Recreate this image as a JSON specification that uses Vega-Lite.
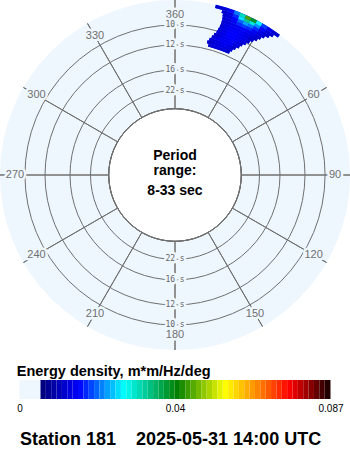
{
  "$schema": "https://vega.github.io/schema/vega-lite/v6.json",
  "background": "white",
  "padding": 0,
  "spacing": 30,
  "bounds": "flush",
  "center": true,
  "config": {"view": {"stroke": null}, "font": "Liberation Sans"},
  "resolve": {"scale": {"color": "independent"}},
  "datasets": {
    "disk": [{"fmin": 0.0303, "fmax": 0.1208}],
    "rings": [{"period": 10, "f": 0.1}, {"period": 12, "f": 0.08333}, {"period": 16, "f": 0.0625}, {"period": 22, "f": 0.04545}],
    "ringlabels": [
      {"f": 0.1, "dir": 0, "label": "10 s"}, {"f": 0.08333, "dir": 0, "label": "12 s"}, {"f": 0.0625, "dir": 0, "label": "16 s"}, {"f": 0.04545, "dir": 0, "label": "22 s"},
      {"f": 0.1, "dir": 180, "label": "10 s"}, {"f": 0.08333, "dir": 180, "label": "12 s"}, {"f": 0.0625, "dir": 180, "label": "16 s"}, {"f": 0.04545, "dir": 180, "label": "22 s"}
    ],
    "spokes": [
      {"dir": 0, "label": "360"}, {"dir": 30, "label": "30"}, {"dir": 60, "label": "60"}, {"dir": 90, "label": "90"},
      {"dir": 120, "label": "120"}, {"dir": 150, "label": "150"}, {"dir": 180, "label": "180"}, {"dir": 210, "label": "210"},
      {"dir": 240, "label": "240"}, {"dir": 270, "label": "270"}, {"dir": 300, "label": "300"}, {"dir": 330, "label": "330"}
    ],
    "cells": [
      {"d0": 14.4, "d1": 16, "f0": 0.0855, "f1": 0.088, "e": 0.012},
      {"d0": 16, "d1": 18, "f0": 0.0855, "f1": 0.088, "e": 0.013},
      {"d0": 18, "d1": 20, "f0": 0.0855, "f1": 0.088, "e": 0.013},
      {"d0": 20, "d1": 22, "f0": 0.0855, "f1": 0.088, "e": 0.013},
      {"d0": 22, "d1": 24, "f0": 0.0855, "f1": 0.088, "e": 0.012},

      {"d0": 13.6, "d1": 16, "f0": 0.088, "f1": 0.0905, "e": 0.012},
      {"d0": 16, "d1": 18, "f0": 0.088, "f1": 0.0905, "e": 0.013},
      {"d0": 18, "d1": 20, "f0": 0.088, "f1": 0.0905, "e": 0.014},
      {"d0": 20, "d1": 22, "f0": 0.088, "f1": 0.0905, "e": 0.014},
      {"d0": 22, "d1": 24.7, "f0": 0.088, "f1": 0.0905, "e": 0.013},

      {"d0": 14.2, "d1": 16, "f0": 0.0905, "f1": 0.093, "e": 0.012},
      {"d0": 16, "d1": 18, "f0": 0.0905, "f1": 0.093, "e": 0.013},
      {"d0": 18, "d1": 20, "f0": 0.0905, "f1": 0.093, "e": 0.014},
      {"d0": 20, "d1": 22, "f0": 0.0905, "f1": 0.093, "e": 0.015},
      {"d0": 22, "d1": 24, "f0": 0.0905, "f1": 0.093, "e": 0.014},
      {"d0": 24, "d1": 25.6, "f0": 0.0905, "f1": 0.093, "e": 0.012},

      {"d0": 14.9, "d1": 16, "f0": 0.093, "f1": 0.0955, "e": 0.012},
      {"d0": 16, "d1": 18, "f0": 0.093, "f1": 0.0955, "e": 0.014},
      {"d0": 18, "d1": 20, "f0": 0.093, "f1": 0.0955, "e": 0.015},
      {"d0": 20, "d1": 22, "f0": 0.093, "f1": 0.0955, "e": 0.015},
      {"d0": 22, "d1": 24, "f0": 0.093, "f1": 0.0955, "e": 0.015},
      {"d0": 24, "d1": 26.7, "f0": 0.093, "f1": 0.0955, "e": 0.013},

      {"d0": 15.5, "d1": 18, "f0": 0.0955, "f1": 0.098, "e": 0.012},
      {"d0": 18, "d1": 20, "f0": 0.0955, "f1": 0.098, "e": 0.014},
      {"d0": 20, "d1": 22, "f0": 0.0955, "f1": 0.098, "e": 0.015},
      {"d0": 22, "d1": 24, "f0": 0.0955, "f1": 0.098, "e": 0.016},
      {"d0": 24, "d1": 26, "f0": 0.0955, "f1": 0.098, "e": 0.014},
      {"d0": 26, "d1": 27.4, "f0": 0.0955, "f1": 0.098, "e": 0.012},

      {"d0": 16.2, "d1": 18, "f0": 0.098, "f1": 0.1005, "e": 0.013},
      {"d0": 18, "d1": 20, "f0": 0.098, "f1": 0.1005, "e": 0.014},
      {"d0": 20, "d1": 22, "f0": 0.098, "f1": 0.1005, "e": 0.016},
      {"d0": 22, "d1": 24, "f0": 0.098, "f1": 0.1005, "e": 0.016},
      {"d0": 24, "d1": 26, "f0": 0.098, "f1": 0.1005, "e": 0.015},
      {"d0": 26, "d1": 28.4, "f0": 0.098, "f1": 0.1005, "e": 0.013},

      {"d0": 16.5, "d1": 18, "f0": 0.1005, "f1": 0.103, "e": 0.013},
      {"d0": 18, "d1": 20, "f0": 0.1005, "f1": 0.103, "e": 0.014},
      {"d0": 20, "d1": 22, "f0": 0.1005, "f1": 0.103, "e": 0.016},
      {"d0": 22, "d1": 24, "f0": 0.1005, "f1": 0.103, "e": 0.016},
      {"d0": 24, "d1": 26, "f0": 0.1005, "f1": 0.103, "e": 0.015},
      {"d0": 26, "d1": 28, "f0": 0.1005, "f1": 0.103, "e": 0.014},
      {"d0": 28, "d1": 29.3, "f0": 0.1005, "f1": 0.103, "e": 0.012},

      {"d0": 16.8, "d1": 18, "f0": 0.103, "f1": 0.1055, "e": 0.012},
      {"d0": 18, "d1": 20, "f0": 0.103, "f1": 0.1055, "e": 0.014},
      {"d0": 20, "d1": 22, "f0": 0.103, "f1": 0.1055, "e": 0.015},
      {"d0": 22, "d1": 24, "f0": 0.103, "f1": 0.1055, "e": 0.016},
      {"d0": 24, "d1": 26, "f0": 0.103, "f1": 0.1055, "e": 0.015},
      {"d0": 26, "d1": 28, "f0": 0.103, "f1": 0.1055, "e": 0.014},
      {"d0": 28, "d1": 30.3, "f0": 0.103, "f1": 0.1055, "e": 0.012},

      {"d0": 16.9, "d1": 18, "f0": 0.1055, "f1": 0.108, "e": 0.012},
      {"d0": 18, "d1": 20, "f0": 0.1055, "f1": 0.108, "e": 0.014},
      {"d0": 20, "d1": 22, "f0": 0.1055, "f1": 0.108, "e": 0.015},
      {"d0": 22, "d1": 24, "f0": 0.1055, "f1": 0.108, "e": 0.015},
      {"d0": 24, "d1": 26, "f0": 0.1055, "f1": 0.108, "e": 0.015},
      {"d0": 26, "d1": 28, "f0": 0.1055, "f1": 0.108, "e": 0.014},
      {"d0": 28, "d1": 30, "f0": 0.1055, "f1": 0.108, "e": 0.013},
      {"d0": 30, "d1": 31.3, "f0": 0.1055, "f1": 0.108, "e": 0.012},

      {"d0": 16.9, "d1": 18, "f0": 0.108, "f1": 0.1105, "e": 0.012},
      {"d0": 18, "d1": 20, "f0": 0.108, "f1": 0.1105, "e": 0.013},
      {"d0": 20, "d1": 22, "f0": 0.108, "f1": 0.1105, "e": 0.014},
      {"d0": 22, "d1": 24, "f0": 0.108, "f1": 0.1105, "e": 0.015},
      {"d0": 24, "d1": 26, "f0": 0.108, "f1": 0.1105, "e": 0.016},
      {"d0": 26, "d1": 28, "f0": 0.108, "f1": 0.1105, "e": 0.015},
      {"d0": 28, "d1": 30, "f0": 0.108, "f1": 0.1105, "e": 0.014},
      {"d0": 30, "d1": 32.1, "f0": 0.108, "f1": 0.1105, "e": 0.012},

      {"d0": 16.8, "d1": 18, "f0": 0.1105, "f1": 0.113, "e": 0.012},
      {"d0": 18, "d1": 20, "f0": 0.1105, "f1": 0.113, "e": 0.013},
      {"d0": 20, "d1": 22, "f0": 0.1105, "f1": 0.113, "e": 0.015},
      {"d0": 22, "d1": 24, "f0": 0.1105, "f1": 0.113, "e": 0.018},
      {"d0": 24, "d1": 26, "f0": 0.1105, "f1": 0.113, "e": 0.019},
      {"d0": 26, "d1": 28, "f0": 0.1105, "f1": 0.113, "e": 0.018},
      {"d0": 28, "d1": 30, "f0": 0.1105, "f1": 0.113, "e": 0.015},
      {"d0": 30, "d1": 32, "f0": 0.1105, "f1": 0.113, "e": 0.013},
      {"d0": 32, "d1": 33, "f0": 0.1105, "f1": 0.113, "e": 0.012},

      {"d0": 16.6, "d1": 18, "f0": 0.113, "f1": 0.1155, "e": 0.012},
      {"d0": 18, "d1": 20, "f0": 0.113, "f1": 0.1155, "e": 0.013},
      {"d0": 20, "d1": 22, "f0": 0.113, "f1": 0.1155, "e": 0.016},
      {"d0": 22, "d1": 24, "f0": 0.113, "f1": 0.1155, "e": 0.021},
      {"d0": 24, "d1": 26, "f0": 0.113, "f1": 0.1155, "e": 0.024},
      {"d0": 26, "d1": 28, "f0": 0.113, "f1": 0.1155, "e": 0.022},
      {"d0": 28, "d1": 30, "f0": 0.113, "f1": 0.1155, "e": 0.018},
      {"d0": 30, "d1": 32, "f0": 0.113, "f1": 0.1155, "e": 0.014},
      {"d0": 32, "d1": 34.2, "f0": 0.113, "f1": 0.1155, "e": 0.012},

      {"d0": 16, "d1": 18, "f0": 0.1155, "f1": 0.118, "e": 0.012},
      {"d0": 18, "d1": 20, "f0": 0.1155, "f1": 0.118, "e": 0.013},
      {"d0": 20, "d1": 22, "f0": 0.1155, "f1": 0.118, "e": 0.018},
      {"d0": 22, "d1": 24, "f0": 0.1155, "f1": 0.118, "e": 0.027},
      {"d0": 24, "d1": 26, "f0": 0.1155, "f1": 0.118, "e": 0.035},
      {"d0": 26, "d1": 28, "f0": 0.1155, "f1": 0.118, "e": 0.031},
      {"d0": 28, "d1": 30, "f0": 0.1155, "f1": 0.118, "e": 0.023},
      {"d0": 30, "d1": 32, "f0": 0.1155, "f1": 0.118, "e": 0.016},
      {"d0": 32, "d1": 34, "f0": 0.1155, "f1": 0.118, "e": 0.013},
      {"d0": 34, "d1": 35.2, "f0": 0.1155, "f1": 0.118, "e": 0.012},

      {"d0": 13.5, "d1": 16, "f0": 0.118, "f1": 0.1208, "e": 0.012},
      {"d0": 16, "d1": 18, "f0": 0.118, "f1": 0.1208, "e": 0.013},
      {"d0": 18, "d1": 20, "f0": 0.118, "f1": 0.1208, "e": 0.015},
      {"d0": 20, "d1": 22, "f0": 0.118, "f1": 0.1208, "e": 0.022},
      {"d0": 22, "d1": 24, "f0": 0.118, "f1": 0.1208, "e": 0.033},
      {"d0": 24, "d1": 26, "f0": 0.118, "f1": 0.1208, "e": 0.047},
      {"d0": 26, "d1": 28, "f0": 0.118, "f1": 0.1208, "e": 0.041},
      {"d0": 28, "d1": 30, "f0": 0.118, "f1": 0.1208, "e": 0.028},
      {"d0": 30, "d1": 32, "f0": 0.118, "f1": 0.1208, "e": 0.019},
      {"d0": 32, "d1": 34, "f0": 0.118, "f1": 0.1208, "e": 0.014},
      {"d0": 34, "d1": 36.8, "f0": 0.118, "f1": 0.1208, "e": 0.012}
    ],
    "bar": [
      {"lo": 0, "hi": 0.00587},
      {"lo": 0.00587, "hi": 0.00737}, {"lo": 0.00737, "hi": 0.00887}, {"lo": 0.00887, "hi": 0.01037}, {"lo": 0.01037, "hi": 0.01187},
      {"lo": 0.01187, "hi": 0.01337}, {"lo": 0.01337, "hi": 0.01487}, {"lo": 0.01487, "hi": 0.01637}, {"lo": 0.01637, "hi": 0.01787},
      {"lo": 0.01787, "hi": 0.01937}, {"lo": 0.01937, "hi": 0.02087}, {"lo": 0.02087, "hi": 0.02237}, {"lo": 0.02237, "hi": 0.02387},
      {"lo": 0.02387, "hi": 0.02537}, {"lo": 0.02537, "hi": 0.02687}, {"lo": 0.02687, "hi": 0.02837}, {"lo": 0.02837, "hi": 0.02987},
      {"lo": 0.02987, "hi": 0.03137}, {"lo": 0.03137, "hi": 0.03287}, {"lo": 0.03287, "hi": 0.03437}, {"lo": 0.03437, "hi": 0.03587},
      {"lo": 0.03587, "hi": 0.03737}, {"lo": 0.03737, "hi": 0.03887}, {"lo": 0.03887, "hi": 0.04037}, {"lo": 0.04037, "hi": 0.04187},
      {"lo": 0.04187, "hi": 0.04337}, {"lo": 0.04337, "hi": 0.04487}, {"lo": 0.04487, "hi": 0.04637}, {"lo": 0.04637, "hi": 0.04787},
      {"lo": 0.04787, "hi": 0.04937}, {"lo": 0.04937, "hi": 0.05087}, {"lo": 0.05087, "hi": 0.05237}, {"lo": 0.05237, "hi": 0.05387},
      {"lo": 0.05387, "hi": 0.05537}, {"lo": 0.05537, "hi": 0.05687}, {"lo": 0.05687, "hi": 0.05837}, {"lo": 0.05837, "hi": 0.05987},
      {"lo": 0.05987, "hi": 0.06137}, {"lo": 0.06137, "hi": 0.06287}, {"lo": 0.06287, "hi": 0.06437}, {"lo": 0.06437, "hi": 0.06587},
      {"lo": 0.06587, "hi": 0.06737}, {"lo": 0.06737, "hi": 0.06887}, {"lo": 0.06887, "hi": 0.07037}, {"lo": 0.07037, "hi": 0.07187},
      {"lo": 0.07187, "hi": 0.07337}, {"lo": 0.07337, "hi": 0.07487}, {"lo": 0.07487, "hi": 0.07637}, {"lo": 0.07637, "hi": 0.07787},
      {"lo": 0.07787, "hi": 0.07937}, {"lo": 0.07937, "hi": 0.08087}, {"lo": 0.08087, "hi": 0.08237}, {"lo": 0.08237, "hi": 0.08387},
      {"lo": 0.08387, "hi": 0.08537}, {"lo": 0.08537, "hi": 0.087}
    ]
  },
  "vconcat": [
    {
      "width": 350,
      "height": 350,
      "layer": [
        {
          "data": {"name": "disk"},
          "mark": {"type": "arc", "theta": 0, "theta2": 6.2832, "fill": "#eef6fe", "clip": true},
          "encoding": {
            "radius": {"field": "fmax", "type": "quantitative", "stack": null, "scale": {"type": "linear", "domain": [0.0303, 0.1208], "range": [66.3, 175], "zero": false}},
            "radius2": {"field": "fmin"}
          }
        },
        {
          "data": {"name": "rings"},
          "mark": {"type": "arc", "theta": 0, "theta2": 6.2832, "filled": false, "stroke": "#707070", "strokeWidth": 1},
          "encoding": {
            "radius": {"field": "f", "type": "quantitative", "stack": null, "scale": {"type": "linear", "domain": [0.0303, 0.1208], "range": [66.3, 175], "zero": false}}
          }
        },
        {
          "data": {"name": "spokes"},
          "mark": {"type": "arc", "filled": false, "stroke": "#707070", "strokeWidth": 1, "clip": true},
          "encoding": {
            "theta": {"field": "dir", "type": "quantitative", "stack": null, "scale": {"type": "linear", "domain": [0, 360], "range": [0, 6.283185307179586]}},
            "theta2": {"field": "dir"},
            "radius": {"datum": 0.1208, "type": "quantitative", "stack": null, "scale": {"type": "linear", "domain": [0.0303, 0.1208], "range": [66.3, 175], "zero": false}},
            "radius2": {"datum": 0.0303}
          }
        },
        {
          "data": {"name": "spokes"},
          "mark": {"type": "text", "radius": 160, "font": "Liberation Sans", "fontSize": 11, "fill": "#eef6fe", "stroke": "#eef6fe", "strokeWidth": 5, "strokeJoin": "round", "align": "center", "baseline": "middle"},
          "encoding": {
            "theta": {"field": "dir", "type": "quantitative", "stack": null, "scale": {"type": "linear", "domain": [0, 360], "range": [0, 6.283185307179586]}},
            "text": {"field": "label"}
          }
        },
        {
          "data": {"name": "spokes"},
          "mark": {"type": "text", "radius": 160, "font": "Liberation Sans", "fontSize": 11, "fill": "#707070", "align": "center", "baseline": "middle"},
          "encoding": {
            "theta": {"field": "dir", "type": "quantitative", "stack": null, "scale": {"type": "linear", "domain": [0, 360], "range": [0, 6.283185307179586]}},
            "text": {"field": "label"}
          }
        },
        {
          "data": {"name": "ringlabels"},
          "mark": {"type": "text", "font": "DejaVu Sans Mono", "fontSize": 8, "fill": "#eef6fe", "stroke": "#eef6fe", "strokeWidth": 5, "strokeJoin": "round", "align": "center", "baseline": "middle"},
          "encoding": {
            "theta": {"field": "dir", "type": "quantitative", "stack": null, "scale": {"type": "linear", "domain": [0, 360], "range": [0, 6.283185307179586]}},
            "radius": {"field": "f", "type": "quantitative", "stack": null, "scale": {"type": "linear", "domain": [0.0303, 0.1208], "range": [66.3, 175], "zero": false}},
            "text": {"field": "label"}
          }
        },
        {
          "data": {"name": "ringlabels"},
          "mark": {"type": "text", "font": "DejaVu Sans Mono", "fontSize": 8, "fill": "#666666", "align": "center", "baseline": "middle"},
          "encoding": {
            "theta": {"field": "dir", "type": "quantitative", "stack": null, "scale": {"type": "linear", "domain": [0, 360], "range": [0, 6.283185307179586]}},
            "radius": {"field": "f", "type": "quantitative", "stack": null, "scale": {"type": "linear", "domain": [0.0303, 0.1208], "range": [66.3, 175], "zero": false}},
            "text": {"field": "label"}
          }
        },
        {
          "data": {"name": "cells"},
          "transform": [
            {"aggregate": [{"op": "min", "field": "d0", "as": "a0"}, {"op": "max", "field": "d1", "as": "a1"}, {"op": "median", "field": "e", "as": "em"}], "groupby": ["f0", "f1"]}
          ],
          "mark": {"type": "arc", "strokeWidth": 0},
          "encoding": {
            "theta": {"field": "a0", "type": "quantitative", "stack": null, "scale": {"type": "linear", "domain": [0, 360], "range": [0, 6.283185307179586]}},
            "theta2": {"field": "a1"},
            "radius": {"field": "f1", "type": "quantitative", "stack": null, "scale": {"type": "linear", "domain": [0.0303, 0.1208], "range": [66.3, 175], "zero": false}},
            "radius2": {"field": "f0"},
            "color": {"field": "em", "type": "quantitative", "legend": null, "scale": {"type": "linear", "interpolate": "rgb", "domain": [0, 0.00586, 0.00587, 0.01595, 0.02853, 0.04336, 0.05679, 0.0663, 0.0747, 0.0811, 0.087], "range": ["#eef6fe", "#eef6fe", "#000080", "#0000ff", "#00ffff", "#008000", "#ffff00", "#ff8000", "#ff0000", "#800000", "#000000"]}}
          }
        },
        {
          "data": {"name": "cells"},
          "mark": {"type": "arc", "strokeWidth": 0},
          "encoding": {
            "theta": {"field": "d0", "type": "quantitative", "stack": null, "scale": {"type": "linear", "domain": [0, 360], "range": [0, 6.283185307179586]}},
            "theta2": {"field": "d1"},
            "radius": {"field": "f1", "type": "quantitative", "stack": null, "scale": {"type": "linear", "domain": [0.0303, 0.1208], "range": [66.3, 175], "zero": false}},
            "radius2": {"field": "f0"},
            "color": {"field": "e", "type": "quantitative", "legend": null, "scale": {"type": "linear", "interpolate": "rgb", "domain": [0, 0.00586, 0.00587, 0.01595, 0.02853, 0.04336, 0.05679, 0.0663, 0.0747, 0.0811, 0.087], "range": ["#eef6fe", "#eef6fe", "#000080", "#0000ff", "#00ffff", "#008000", "#ffff00", "#ff8000", "#ff0000", "#800000", "#000000"]}}
          }
        },
        {
          "data": {"name": "disk"},
          "mark": {"type": "text", "text": ["Period", "range:"], "font": "Liberation Sans", "fontSize": 14, "fontWeight": "bold", "fill": "#000000", "lineHeight": 14.5, "align": "center", "baseline": "alphabetic", "dy": -15}
        },
        {
          "data": {"name": "disk"},
          "mark": {"type": "text", "text": "8-33 sec", "font": "Liberation Sans", "fontSize": 14, "fontWeight": "bold", "fill": "#000000", "align": "center", "baseline": "alphabetic", "dy": 20}
        }
      ]
    },
    {
      "width": 311,
      "height": 19,
      "title": {"text": "Energy density, m*m/Hz/deg", "anchor": "start", "font": "Liberation Sans", "fontSize": 14.5, "fontWeight": "bold", "color": "#000000", "baseline": "alphabetic", "offset": -10},
      "data": {"name": "bar"},
      "mark": {"type": "rect", "strokeWidth": 0},
      "encoding": {
        "x": {
          "field": "lo", "type": "quantitative",
          "scale": {"domain": [0, 0.087], "nice": false, "zero": false},
          "axis": {
            "values": [0, 0.0435, 0.087],
            "labelExpr": "datum.value == 0 ? '0' : (datum.value == 0.087 ? '0.087' : '0.04')",
            "ticks": false, "tickSize": 0, "domain": false, "grid": false, "labelFlush": false,
            "labelFont": "Liberation Sans", "labelFontSize": 10, "labelColor": "#000000", "labelPadding": 4,
            "title": "Station 181\u00a0\u00a0\u00a0\u00a02025-05-31 14:00 UTC",
            "titleAnchor": "start", "titleAlign": "left", "titleFont": "Liberation Sans", "titleFontSize": 18, "titleFontWeight": "bold", "titleColor": "#000000", "titlePadding": 17
          }
        },
        "x2": {"field": "hi"},
        "color": {"field": "lo", "type": "quantitative", "legend": null, "scale": {"type": "linear", "interpolate": "rgb", "domain": [0, 0.00586, 0.00587, 0.01595, 0.02853, 0.04336, 0.05679, 0.0663, 0.0747, 0.0811, 0.087], "range": ["#eef6fe", "#eef6fe", "#000080", "#0000ff", "#00ffff", "#008000", "#ffff00", "#ff8000", "#ff0000", "#800000", "#000000"]}}
      }
    }
  ]
}
